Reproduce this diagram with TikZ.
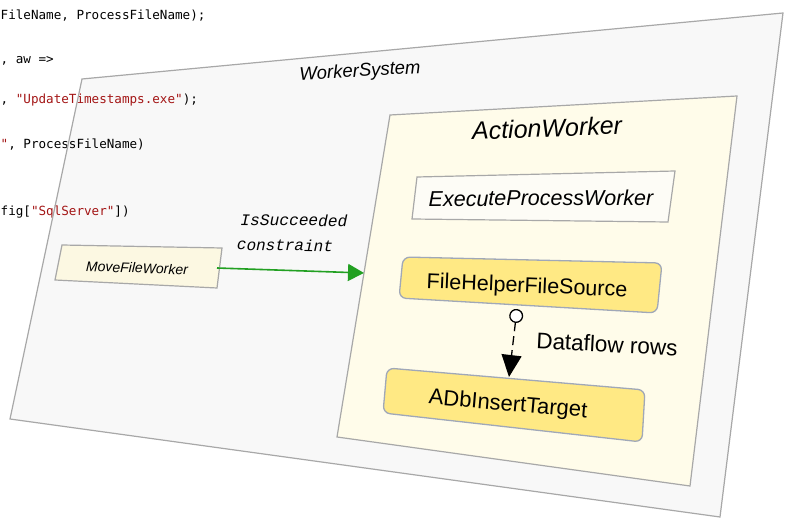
\documentclass[tikz,border=0pt]{standalone}
\usepackage{fontspec}
\setmainfont{Liberation Sans}
\newfontfamily\codefont{DejaVu Sans Mono}
\newfontfamily\labfont{Liberation Mono}
\usetikzlibrary{arrows.meta}
\definecolor{panelfill}{HTML}{F8F8F8}
\definecolor{panelline}{HTML}{A8A8A8}
\definecolor{innerfill}{HTML}{FFFCEA}
\definecolor{mfwfill}{HTML}{FCF8E2}
\definecolor{epwfill}{HTML}{FDFCF6}
\definecolor{yellowfill}{HTML}{FFE984}
\definecolor{yellowline}{HTML}{A0A8B8}
\definecolor{arrowgreen}{HTML}{22A022}
\definecolor{strred}{HTML}{A31515}
\tikzset{
  panelbox/.style={fill=panelfill},
  panelborder/.style={draw=panelline, line width=1.2pt},
  innerbox/.style={fill=innerfill, draw=panelline, line width=1.2pt},
  plainbox/.style={draw=panelline, line width=1.2pt},
  yellowbox/.style={fill=yellowfill, draw=yellowline, line width=1.3pt, rounded corners=7pt},
  codeline/.style={anchor=west, inner sep=0pt, font=\codefont\fontsize{12.6}{14}\selectfont},
  titletext/.style={inner sep=0pt, font=\itshape},
  boxtext/.style={inner sep=0pt},
}
\begin{document}
\begin{tikzpicture}[x=1pt,y=-1pt]
\useasboundingbox (0,0) rectangle (785,518);
% outer panel
\path[panelbox] (82,79) -- (783,13) -- (720,517) -- (10,419) -- cycle;
% background code
\node[codeline] (c1) at (0.5,16) {FileName, ProcessFileName);};
\node[codeline] (c2) at (0.5,61) {, aw =>};
\node[codeline] (c3) at (0.5,100) {, \textcolor{strred}{"UpdateTimestamps.exe"});};
\node[codeline] (c4) at (0.5,145) {\textcolor{strred}{"}, ProcessFileName)};
\node[codeline] (c5) at (0.5,212) {fig[\textcolor{strred}{"SqlServer"}])};
\draw[panelborder] (82,79) -- (783,13) -- (720,517) -- (10,419) -- cycle;
\node[titletext, font=\itshape\fontsize{18.5}{20}\selectfont, rotate=3.5] (ws) at (360,72) {WorkerSystem};
% inner panel
\draw[innerbox] (390,115) -- (737,96) -- (690,486) -- (337,437) -- cycle;
\node[titletext, font=\itshape\fontsize{25}{27}\selectfont, rotate=2.2] (aw) at (547,128) {ActionWorker};
% ExecuteProcessWorker
\draw[plainbox, fill=epwfill] (417,177) -- (675,171) -- (668,222) -- (412,219) -- cycle;
\node[titletext, font=\itshape\fontsize{21.5}{23}\selectfont, rotate=0.3] (epw) at (541,198) {ExecuteProcessWorker};
% FileHelperFileSource
\draw[yellowbox] (403,257) -- (662,263) -- (657,313) -- (399,298) -- cycle;
\node[boxtext, font=\fontsize{21.5}{23}\selectfont, rotate=-2.5] (fhfs) at (527,287) {FileHelperFileSource};
% ADbInsertTarget
\draw[yellowbox] (387,368) -- (645,390) -- (642,442) -- (383,413) -- cycle;
\node[boxtext, font=\fontsize{22}{24}\selectfont, rotate=-5] (adb) at (508,405) {ADbInsertTarget};
% Dataflow connector
\coordinate (dfS) at (517,309);
\coordinate (dfE) at (509,377);
\draw[line width=1.3pt, dash pattern=on 9pt off 5pt,
  {Circle[open, length=14pt, width=14pt, fill=white, line width=1.3pt]}-{Triangle[length=22pt, width=20pt]}]
  (dfS) -- (dfE);
\node[boxtext, font=\fontsize{22.5}{24}\selectfont, rotate=-3] (dfl) at (607,344) {Dataflow rows};
% MoveFileWorker
\draw[plainbox, fill=mfwfill] (62,245) -- (222,248) -- (217,288) -- (55,280) -- cycle;
\node[titletext, font=\itshape\fontsize{14}{16}\selectfont, rotate=-2] (mfw) at (137,268) {MoveFileWorker};
% green constraint arrow
\coordinate (mfwE) at (217,268);
\coordinate (awW) at (364,273);
\draw[arrowgreen, line width=1.6pt, -{Triangle[length=16pt, width=17pt]}] (mfwE) -- (awW);
\node[boxtext, font=\labfont\itshape\fontsize{16.2}{18}\selectfont, rotate=-0.8] (lc1) at (294,220) {IsSucceeded};
\node[boxtext, font=\labfont\itshape\fontsize{16}{18}\selectfont, rotate=-1] (lc2) at (285,245) {constraint};
\end{tikzpicture}
\end{document}
